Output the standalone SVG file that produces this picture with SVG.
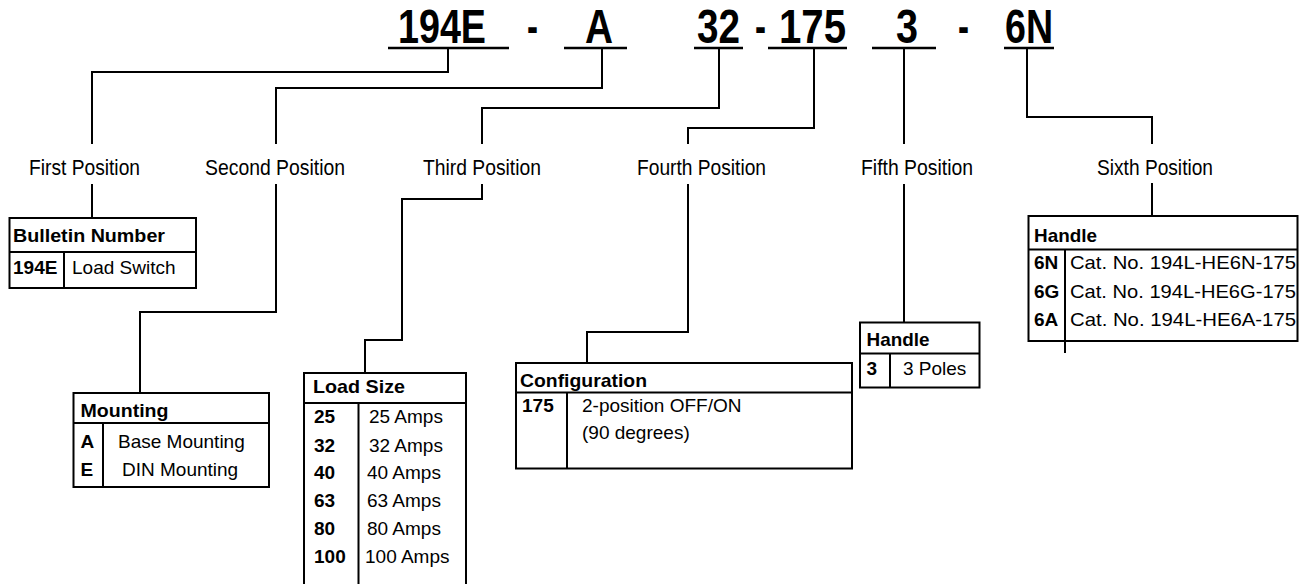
<svg xmlns="http://www.w3.org/2000/svg" width="1307" height="584" viewBox="0 0 1307 584">
<style>
.bg{fill:#fff}
.ln{fill:none;stroke:#000;stroke-width:2}
.ul{fill:none;stroke:#000;stroke-width:2.6}
.box{fill:none;stroke:#000;stroke-width:2}
.ttl{font-family:"Liberation Sans",Arial,sans-serif;font-weight:bold;font-size:48px;fill:#000}
.lbl{font-family:"Liberation Sans",Arial,sans-serif;font-size:22px;fill:#000}
.hd{font-family:"Liberation Sans",Arial,sans-serif;font-weight:bold;font-size:19px;fill:#000}
.tx{font-family:"Liberation Sans",Arial,sans-serif;font-size:19px;fill:#000}
</style>
<rect class="bg" x="0" y="0" width="1307" height="584"/>
<g id="title">
<text class="ttl" x="398" y="43" textLength="88" lengthAdjust="spacingAndGlyphs">194E</text>
<text class="ttl" x="527" y="43" textLength="11" lengthAdjust="spacingAndGlyphs">-</text>
<text class="ttl" x="585" y="43" textLength="28" lengthAdjust="spacingAndGlyphs">A</text>
<text class="ttl" x="697" y="43" textLength="43" lengthAdjust="spacingAndGlyphs">32</text>
<text class="ttl" x="755" y="43" textLength="11" lengthAdjust="spacingAndGlyphs">-</text>
<text class="ttl" x="779" y="43" textLength="67" lengthAdjust="spacingAndGlyphs">175</text>
<text class="ttl" x="896" y="43" textLength="22" lengthAdjust="spacingAndGlyphs">3</text>
<text class="ttl" x="958" y="43" textLength="11" lengthAdjust="spacingAndGlyphs">-</text>
<text class="ttl" x="1005" y="43" textLength="48" lengthAdjust="spacingAndGlyphs">6N</text>
<path class="ul" d="M388,48H509M564,48H627M694,48H743M768,48H847M872,48H936M1004,48H1054"/>
</g>
<g id="connectors">
<path class="ln" d="M448,48V72H92V144"/>
<path class="ln" d="M92,184V218"/>
<path class="ln" d="M602,48V88H276V144"/>
<path class="ln" d="M276,184V312H140V393"/>
<path class="ln" d="M719,48V108H482V144"/>
<path class="ln" d="M482,184V199H402V340H365V373"/>
<path class="ln" d="M814,48V128H688V144"/>
<path class="ln" d="M688,184V332H587V363"/>
<path class="ln" d="M904,48V144"/>
<path class="ln" d="M904,184V322"/>
<path class="ln" d="M1027,48V117H1152V144"/>
<path class="ln" d="M1152,183V216"/>
</g>
<g id="labels">
<text class="lbl" x="29" y="175" textLength="111" lengthAdjust="spacingAndGlyphs">First Position</text>
<text class="lbl" x="205" y="175" textLength="140" lengthAdjust="spacingAndGlyphs">Second Position</text>
<text class="lbl" x="423" y="175" textLength="118" lengthAdjust="spacingAndGlyphs">Third Position</text>
<text class="lbl" x="637" y="175" textLength="129" lengthAdjust="spacingAndGlyphs">Fourth Position</text>
<text class="lbl" x="861" y="175" textLength="112" lengthAdjust="spacingAndGlyphs">Fifth Position</text>
<text class="lbl" x="1097" y="175" textLength="116" lengthAdjust="spacingAndGlyphs">Sixth Position</text>
</g>
<g id="bulletin">
<rect class="box" x="9.5" y="218" width="186.5" height="70"/>
<path class="ln" d="M9.5,252H196M64,252V288"/>
<text class="hd" x="13" y="241.5" textLength="152" lengthAdjust="spacingAndGlyphs">Bulletin Number</text>
<text class="hd" x="13" y="274">194E</text>
<text class="tx" x="72" y="274">Load Switch</text>
</g>
<g id="mounting">
<rect class="box" x="73.5" y="393" width="195.5" height="94"/>
<path class="ln" d="M73.5,423H269M103,423V487"/>
<text class="hd" x="80.5" y="416.5" textLength="88" lengthAdjust="spacingAndGlyphs">Mounting</text>
<text class="hd" x="80.5" y="448">A</text>
<text class="tx" x="118" y="448">Base Mounting</text>
<text class="hd" x="80.5" y="476">E</text>
<text class="tx" x="122" y="476">DIN Mounting</text>
</g>
<g id="loadsize">
<rect class="box" x="304" y="373" width="162" height="230"/>
<path class="ln" d="M304,403H466M358.5,403V603"/>
<text class="hd" x="313" y="393" textLength="92" lengthAdjust="spacingAndGlyphs">Load Size</text>
<text class="hd" x="314" y="423">25</text><text class="tx" x="369" y="423">25 Amps</text>
<text class="hd" x="314" y="451.5">32</text><text class="tx" x="369" y="451.5">32 Amps</text>
<text class="hd" x="314" y="479">40</text><text class="tx" x="367" y="479">40 Amps</text>
<text class="hd" x="314" y="507">63</text><text class="tx" x="367" y="507">63 Amps</text>
<text class="hd" x="314" y="534.5">80</text><text class="tx" x="367" y="534.5">80 Amps</text>
<text class="hd" x="314" y="563">100</text><text class="tx" x="365" y="563">100 Amps</text>
</g>
<g id="configuration">
<rect class="box" x="516" y="363" width="336" height="105.5"/>
<path class="ln" d="M516,392.5H852M567,392.5V468.5"/>
<text class="hd" x="520" y="386.5" textLength="127" lengthAdjust="spacingAndGlyphs">Configuration</text>
<text class="hd" x="522" y="411.5">175</text>
<text class="tx" x="582" y="411.5">2-position OFF/ON</text>
<text class="tx" x="582" y="438.5">(90 degrees)</text>
</g>
<g id="handle5">
<rect class="box" x="860" y="322.5" width="119.5" height="65"/>
<path class="ln" d="M860,353.5H979.5M890,353.5V387.5"/>
<text class="hd" x="866.5" y="346" textLength="63" lengthAdjust="spacingAndGlyphs">Handle</text>
<text class="hd" x="866.5" y="375">3</text>
<text class="tx" x="903" y="375">3 Poles</text>
</g>
<g id="handle6">
<rect class="box" x="1028.5" y="216" width="269" height="125"/>
<path class="ln" d="M1028.5,249.5H1297.5M1065,249.5V353"/>
<text class="hd" x="1034" y="241.5" textLength="63" lengthAdjust="spacingAndGlyphs">Handle</text>
<text class="hd" x="1034" y="269">6N</text>
<text class="tx" x="1070" y="269" textLength="226" lengthAdjust="spacingAndGlyphs">Cat. No. 194L-HE6N-175</text>
<text class="hd" x="1034" y="297.5">6G</text>
<text class="tx" x="1070" y="297.5" textLength="226" lengthAdjust="spacingAndGlyphs">Cat. No. 194L-HE6G-175</text>
<text class="hd" x="1034" y="325.5">6A</text>
<text class="tx" x="1070" y="325.5" textLength="226" lengthAdjust="spacingAndGlyphs">Cat. No. 194L-HE6A-175</text>
</g>
</svg>
